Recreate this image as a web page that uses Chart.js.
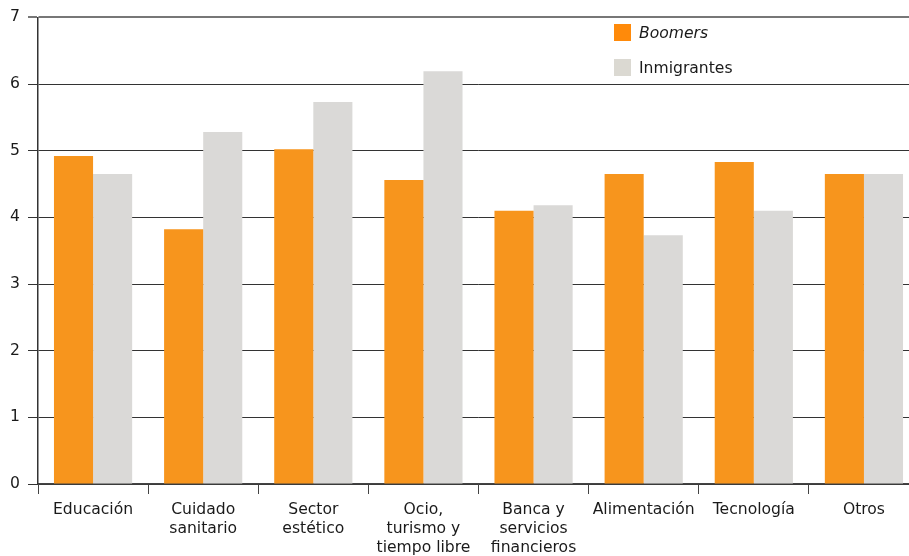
<!DOCTYPE html>
<html>
<head>
<meta charset="utf-8">
<script src="https://cdn.jsdelivr.net/npm/chart.js@4/dist/chart.umd.min.js"></script>
<style>
  html, body { margin: 0; padding: 0; background: #fff; overflow: hidden; }
  #wrap { position: relative; width: 909px; height: 556px; overflow: hidden; }
  #box { position: absolute; left: 0; top: 0; width: 919px; height: 556px; }
  .key { position: absolute; left: 614px; font: 15.6px "DejaVu Sans", Verdana, sans-serif; color: #1a1a1a; }
  .key span { display: inline-block; width: 17px; height: 17px; vertical-align: middle; margin-right: 8px; }
</style>
</head>
<body>
<div id="wrap">
  <div id="box"><canvas id="chart"></canvas></div>
  <div class="key" style="top:23px"><span style="background:#ff8a0a"></span><i style="vertical-align:middle">Boomers</i></div>
  <div class="key" style="top:58px"><span style="background:#dbd9d2"></span><span style="width:auto;height:auto;margin:0">Inmigrantes</span></div>
</div>
<script>
// ---------- data ----------
const categories = [
    "Educación",
    ["Cuidado", "sanitario"],
    ["Sector", "estético"],
    ["Ocio,", "turismo y", "tiempo libre"],
    ["Banca y", "servicios", "financieros"],
    "Alimentación",
    "Tecnología",
    "Otros"
];

const boomers = [4.92, 3.82, 5.02, 4.56, 4.10, 4.65, 4.83, 4.65];
const inmigrantes = [4.65, 5.28, 5.73, 6.19, 4.18, 3.73, 4.10, 4.65];

const yMin = 0;
const yMax = 7;

const font = { family: "'DejaVu Sans', Verdana, sans-serif", size: 15.6 };

new Chart(document.getElementById("chart"), {
    type: "bar",
    data: {
        labels: categories,
        datasets: [
            { label: "Boomers", data: boomers, backgroundColor: "#f7951d" },
            { label: "Inmigrantes", data: inmigrantes, backgroundColor: "#dad9d7" }
        ]
    },
    options: {
        responsive: true,
        maintainAspectRatio: false,
        animation: false,
        layout: { padding: { top: 17, left: 0, right: 0, bottom: 0 } },
        datasets: { bar: { barPercentage: 1, categoryPercentage: 0.71 } },
        plugins: { legend: { display: false }, tooltip: { enabled: false } },
        scales: {
            x: {
                grid: { drawOnChartArea: false, color: "#444", tickLength: 10, lineWidth: 1 },
                border: { color: "#444", width: 1.5 },
                ticks: { color: "#1a1a1a", font: { ...font, lineHeight: 1.22 }, padding: 6, maxRotation: 0, autoSkip: false },
                afterFit: s => { s.height = 72; }
            },
            y: {
                min: yMin,
                max: yMax,
                grid: {
                    color: c => c.tick && c.tick.value === yMax ? "#777" : "#333",
                    lineWidth: c => c.tick && c.tick.value === yMax ? 2 : 1,
                    tickLength: 10
                },
                border: { color: "#333", width: 1.5 },
                ticks: { stepSize: 1, color: "#1a1a1a", font: font, padding: 8 },
                afterFit: s => { s.width = 38; }
            }
        }
    }
});
</script>
</body>
</html>
